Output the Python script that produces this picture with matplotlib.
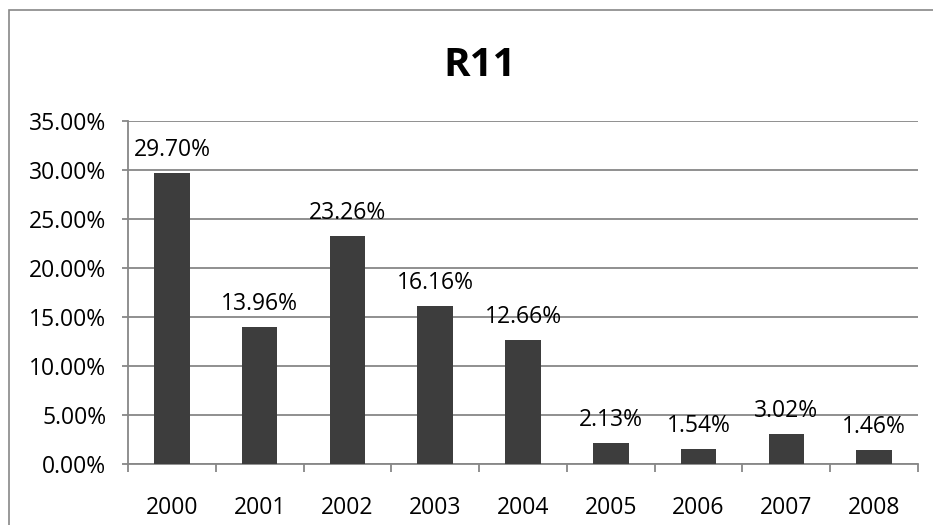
import matplotlib
matplotlib.use('Agg')
import matplotlib.pyplot as plt
from matplotlib.patches import Rectangle
from matplotlib.ticker import FuncFormatter, FixedLocator

plt.rcParams['font.family'] = ['Open Sans', 'DejaVu Sans']

# данные графика
years = ['2000', '2001', '2002', '2003', '2004', '2005', '2006', '2007', '2008']
values = [29.70, 13.96, 23.26, 16.16, 12.66, 2.13, 1.54, 3.02, 1.46]
title = 'R11'

grey = '#878787'
bar_color = '#3d3d3d'

fig = plt.figure(figsize=(9.33, 5.25), dpi=100)
ax = fig.add_axes([0.1372, 0.1162, 0.8467, 0.6524])

# рамка вокруг всей диаграммы (правый и нижний край обрезаны)
fig.patches.append(Rectangle((9 / 933, -0.1), 1.2, 1 - 10 / 525 + 0.1,
                             transform=fig.transFigure, fill=False,
                             edgecolor=grey, linewidth=1.2, zorder=0))

x = list(range(len(years)))
ax.bar(x, values, width=0.405, color=bar_color, zorder=3)

for xi, v in zip(x, values):
    ax.annotate(f'{v:.2f}%', (xi, v), xytext=(0, 8), textcoords='offset points',
                ha='center', va='bottom', fontsize=16.5, color='black')

ax.set_xlim(-0.5, len(years) - 0.5)
ax.set_ylim(0, 35)
ax.set_yticks(range(0, 36, 5))
ax.yaxis.set_major_formatter(FuncFormatter(lambda v, p: f'{v:.2f}%'))
ax.yaxis.grid(True, color=grey, linewidth=1.3, zorder=0)
ax.set_axisbelow(True)

ax.set_xticks(x)
ax.set_xticklabels(years)
ax.xaxis.set_minor_locator(FixedLocator([i - 0.5 for i in range(len(years) + 1)]))
ax.tick_params(axis='x', which='major', length=0, pad=23, labelsize=16.5)
ax.tick_params(axis='x', which='minor', length=5.5, width=1.3, color=grey)
ax.tick_params(axis='y', length=4.5, width=1.3, color=grey, pad=11, labelsize=16.5)

for side in ['top', 'right']:
    ax.spines[side].set_visible(False)
for side in ['left', 'bottom']:
    ax.spines[side].set_color(grey)
    ax.spines[side].set_linewidth(1.3)

fig.text(480 / 933, 1 - 65 / 525, title, ha='center', va='center',
         fontsize=29, fontweight='bold')

plt.savefig('out.png', dpi=100)
